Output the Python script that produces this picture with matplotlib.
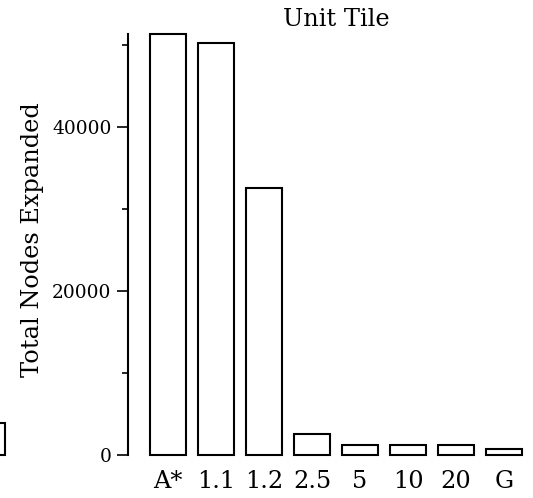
#! /usr/bin/env python3

'''
Unit Tile: total nodes expanded per weight, bar chart
'''

import matplotlib
matplotlib.use('Agg')
import matplotlib.pyplot as plt
from matplotlib.ticker import FixedLocator


labels = ['A*', '1.1', '1.2', '2.5', '5', '10', '20', 'G']
nodes = [51300, 50200, 32600, 2600, 1250, 1250, 1250, 770]

# last bar of the neighbouring (cropped) panel on the left
prev_panel_pos = [7]
prev_panel_nodes = [3900]

title = 'Unit Tile'
ylabel = 'Total Nodes Expanded'
major_ticks = [0, 20000, 40000]
minor_ticks = [10000, 30000, 50000]

font_size = 17.3
ytick_size = 13.4


def main():
    plt.rcParams['font.family'] = ['DejaVu Serif']
    fig = plt.figure(figsize=(5.33, 4.98), dpi=100)

    W, H = 533.0, 498.0
    left, right = 144 / W, 528 / W
    bottom, top = (H - 455) / H, (H - 34.3) / H
    width, height = right - left, top - bottom

    # cropped neighbour panel, only its last bar is inside the picture
    ax0 = fig.add_axes([(10.7 - 384) / W, bottom, width, height])
    ax0.bar(prev_panel_pos, prev_panel_nodes, width=0.76, color='white',
            edgecolor='black', linewidth=1.5, clip_on=False)
    ax0.set_xlim(-0.5, 7.5)
    ax0.set_ylim(0, max(nodes))
    ax0.axis('off')

    ax = fig.add_axes([left, bottom, width, height])
    x = range(len(labels))
    ax.bar(x, nodes, width=0.76, color='white', edgecolor='black',
           linewidth=1.5, clip_on=False)
    ax.set_xlim(-0.5, len(labels) - 0.5)
    ax.set_ylim(0, max(nodes))

    for s in ['top', 'right', 'bottom']:
        ax.spines[s].set_visible(False)
    ax.spines['left'].set_position(('outward', 11.5))
    ax.spines['left'].set_bounds(0, max(nodes))
    ax.spines['left'].set_linewidth(1.5)

    ax.set_xticks(list(x))
    ax.set_xticklabels(labels, fontsize=font_size)
    ax.tick_params(axis='x', length=0, pad=11)

    ax.yaxis.set_major_locator(FixedLocator(major_ticks))
    ax.yaxis.set_minor_locator(FixedLocator(minor_ticks))
    ax.set_yticklabels([str(t) for t in major_ticks], fontsize=ytick_size)
    ax.tick_params(axis='y', which='major', length=8, width=1.2, pad=4)
    ax.tick_params(axis='y', which='minor', length=4, width=1.2)

    ax.set_ylabel(ylabel, fontsize=font_size)
    ax.yaxis.set_label_coords(-0.26, 0.511)
    ax.set_title(title, fontsize=font_size, pad=6)

    fig.savefig('out.png', dpi=100)


if __name__ == '__main__':
    main()
